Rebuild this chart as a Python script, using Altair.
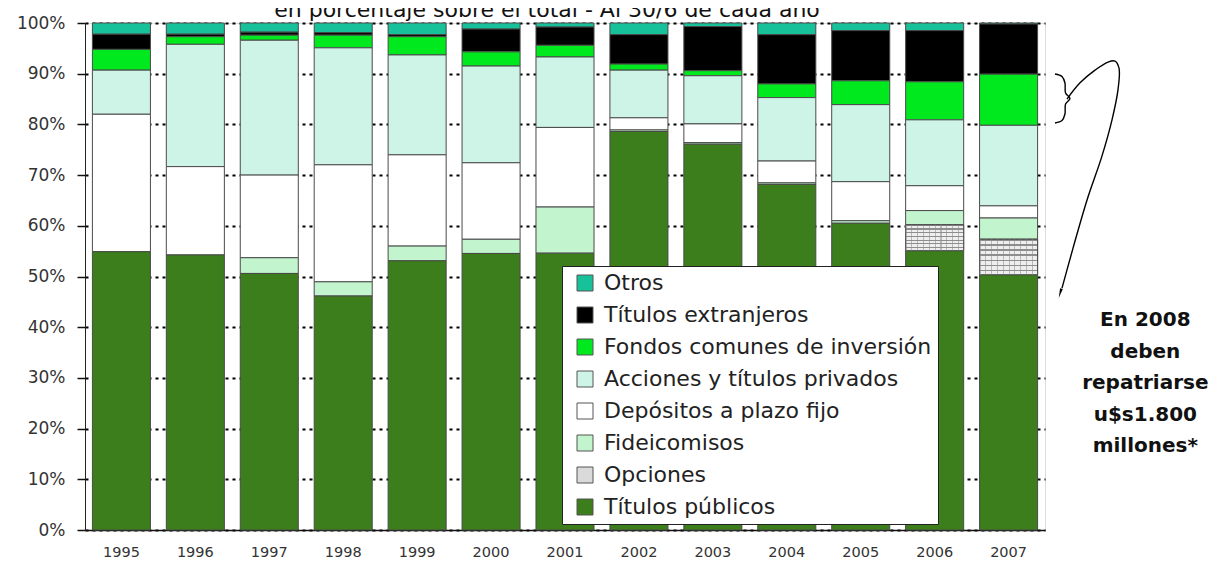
import altair as alt
import pandas as pd

# ---------------- data ----------------
years = [str(y) for y in range(1995, 2008)]
categories = [
    "Otros",
    "Títulos extranjeros",
    "Fondos comunes de inversión",
    "Acciones y títulos privados",
    "Depósitos a plazo fijo",
    "Fideicomisos",
    "Opciones",
    "Títulos públicos",
]
colors = ["#17C29A", "#000000", "#00E81E", "#CDF4E7", "#FFFFFF", "#C2F4CD", "#DADADA", "#3C7D1C"]

otros        = [2.2, 2.2, 1.8, 1.9, 2.3, 1.2, 0.8, 2.3, 0.7, 2.3, 1.5, 1.5, 0.2]
extranjeros  = [3.0, 0.5, 0.6, 0.5, 0.4, 4.5, 3.6, 5.8, 8.7, 9.7, 9.9, 10.1, 9.9]
fondos       = [4.1, 1.5, 1.0, 2.5, 3.6, 2.8, 2.3, 1.2, 1.0, 2.7, 4.7, 7.5, 10.1]
acciones     = [8.7, 24.1, 26.6, 23.1, 19.7, 19.1, 13.9, 9.4, 9.5, 12.5, 15.2, 13.0, 15.9]
depositos    = [27.1, 17.4, 16.3, 23.1, 18.0, 15.1, 15.7, 2.4, 3.7, 4.3, 7.7, 4.9, 2.4]
fideicomisos = [0.0, 0.0, 3.1, 2.8, 2.9, 2.8, 9.1, 0.3, 0.3, 0.3, 0.5, 2.8, 4.2]
opciones     = [0.0, 0.0, 0.0, 0.0, 0.0, 0.0, 0.0, 0.0, 0.0, 0.0, 0.0, 5.1, 7.0]
publicos     = [54.9, 54.2, 50.6, 46.2, 53.1, 54.6, 54.6, 78.6, 76.1, 68.1, 60.5, 55.1, 50.4]
series = [otros, extranjeros, fondos, acciones, depositos, fideicomisos, opciones, publicos]

title_text = "en porcentaje sobre el total - Al 30/6 de cada año"
note_lines = ["En 2008", "deben", "repatriarse", "u$s1.800", "millones*"]

# annotation paths (x in % of plot width, y in share of total)
arrow_x = [102.29, 103.65, 105.21, 106.56, 107.29, 107.71, 107.60, 106.98, 105.94, 104.38, 102.92, 101.77]
arrow_y = [0.850, 0.882, 0.907, 0.923, 0.925, 0.911, 0.868, 0.809, 0.738, 0.651, 0.556, 0.477]
brace_x = [101.04, 101.77, 102.08, 102.14, 102.60, 102.14, 102.08, 101.77, 101.04]
brace_y = [0.8994, 0.8945, 0.8817, 0.8619, 0.8511, 0.8402, 0.8205, 0.8077, 0.8028]
head_x, head_y = 101.62, 0.470
note_x, note_y = 110.45, 0.414

# ---------------- tables ----------------
rows = []
n = len(categories)
for ci, (cat, vals) in enumerate(zip(categories, series)):
    for yr, v in zip(years, vals):
        rows.append({"year": yr, "cat": cat, "value": v, "order": n - 1 - ci})
df = pd.DataFrame(rows)

paths = []
for i, (x, y) in enumerate(zip(arrow_x, arrow_y)):
    paths.append({"path": "arrow", "i": i, "ax": x, "ay": y})
for i, (x, y) in enumerate(zip(brace_x, brace_y)):
    paths.append({"path": "brace", "i": i, "ax": x, "ay": y})
paths_df = pd.DataFrame(paths)

W, H = 960, 507
FONT = "DejaVu Sans"

xenc = alt.X(
    "year:O",
    scale=alt.Scale(paddingInner=0.215, paddingOuter=0.1),
    axis=alt.Axis(
        title=None, labelAngle=0, ticks=False, labelPadding=15,
        labelFont=FONT, labelFontSize=14.5, labelColor="#333",
        domainColor="#111", domainWidth=1.5,
    ),
)
yscale = alt.Scale(domain=[0, 1])
yaxis = alt.Axis(
    title=None, format="%", values=[i / 10 for i in range(11)],
    labelFont=FONT, labelFontSize=17, labelColor="#333", labelPadding=12,
    tickSize=8, tickColor="#111", tickWidth=1.5,
    domainColor="#222", domainWidth=1,
    grid=True, gridColor="#000", gridDash=[3, 4], gridWidth=2,
)

base = (
    alt.Chart(df)
    .transform_filter("datum.value > 0")
    .transform_stack(
        stack="value", groupby=["year"], as_=["v0", "v1"],
        sort=[alt.SortField("order", order="ascending")], offset="normalize",
    )
)

bars = base.mark_bar(stroke="#4a4a4a", strokeWidth=1).encode(
    x=xenc,
    y=alt.Y("v0:Q", scale=yscale, axis=yaxis),
    y2="v1:Q",
    color=alt.Color(
        "cat:N",
        scale=alt.Scale(domain=categories, range=colors),
        legend=alt.Legend(
            title=None, orient="none", legendX=477, legendY=243,
            fillColor="white", strokeColor="#222", padding=6,
            symbolType="square", symbolSize=256, symbolOffset=6,
            symbolStrokeColor="#555", symbolStrokeWidth=1, symbolOpacity=1,
            labelFont=FONT, labelFontSize=22, labelColor="#222",
            labelOffset=8, labelLimit=500, rowPadding=10,
        ),
    ),
)

# hatched pattern for "Opciones"
hstops = []
ns = 7
for i in range(ns):
    a = i / ns
    b = a + 0.28 / ns
    hstops += [
        alt.GradientStop(color="#8e8e8e", offset=a),
        alt.GradientStop(color="#8e8e8e", offset=b),
        alt.GradientStop(color="#eeeeee", offset=b),
        alt.GradientStop(color="#eeeeee", offset=(i + 1) / ns),
    ]
vstops = []
nv = 10
for i in range(nv):
    a = i / nv
    b = a + 0.18 / nv
    vstops += [
        alt.GradientStop(color="rgba(140,140,140,0.55)", offset=a),
        alt.GradientStop(color="rgba(140,140,140,0.55)", offset=b),
        alt.GradientStop(color="rgba(140,140,140,0)", offset=b),
        alt.GradientStop(color="rgba(140,140,140,0)", offset=(i + 1) / nv),
    ]
opc = base.transform_filter("datum.cat == 'Opciones'")
opc_h = opc.mark_bar(
    fill=alt.LinearGradient(gradient="linear", stops=hstops, x1=0, x2=0, y1=0, y2=1),
    stroke="#4a4a4a", strokeWidth=1,
).encode(x=xenc, y=alt.Y("v0:Q", scale=yscale, axis=yaxis), y2="v1:Q")
opc_v = opc.mark_bar(
    fill=alt.LinearGradient(gradient="linear", stops=vstops, x1=0, x2=1, y1=0, y2=0),
    strokeOpacity=0,
).encode(x=xenc, y=alt.Y("v0:Q", scale=yscale, axis=yaxis), y2="v1:Q")

main = alt.layer(bars, opc_h, opc_v)

ax_scale = alt.Scale(domain=[0, 100])
lines = alt.Chart(paths_df).mark_line(
    color="#000", strokeWidth=1.4, interpolate="catmull-rom"
).encode(
    x=alt.X("ax:Q", scale=ax_scale, axis=None),
    y=alt.Y("ay:Q", title=None),
    detail="path:N",
    order="i:Q",
)

head = alt.Chart(pd.DataFrame({"ax": [head_x], "ay": [head_y]})).mark_point(
    shape="wedge", angle=196, size=130, filled=True, color="#000", opacity=1
).encode(
    x=alt.X("ax:Q", scale=ax_scale, axis=None),
    y=alt.Y("ay:Q", title=None),
)

note = alt.Chart(pd.DataFrame({"ax": [note_x], "ay": [note_y]})).mark_text(
    text=note_lines, font=FONT, fontSize=20, fontWeight="bold", color="#111",
    align="center", baseline="middle", lineHeight=31.6,
).encode(
    x=alt.X("ax:Q", scale=ax_scale, axis=None),
    y=alt.Y("ay:Q", title=None),
)

# subtitle line at the top edge (partly cut in the original)
title = alt.Chart(pd.DataFrame({"t": [title_text]})).mark_text(
    font=FONT, fontSize=22, color="#111", align="center", baseline="alphabetic",
).encode(text="t:N", x=alt.value(462), y=alt.value(-6))

chart = (
    alt.layer(main, lines, head, note, title)
    .resolve_scale(x="independent")
    .properties(
        width=W, height=H,
        autosize=alt.AutoSizeParams(type="none"),
        padding={"left": 77, "top": 15, "right": 167, "bottom": 32},
    )
    .configure_view(stroke="#777", strokeWidth=1)
    .configure(background="white")
)

chart.save("out.html", embed_options={"renderer": "svg", "actions": False})
